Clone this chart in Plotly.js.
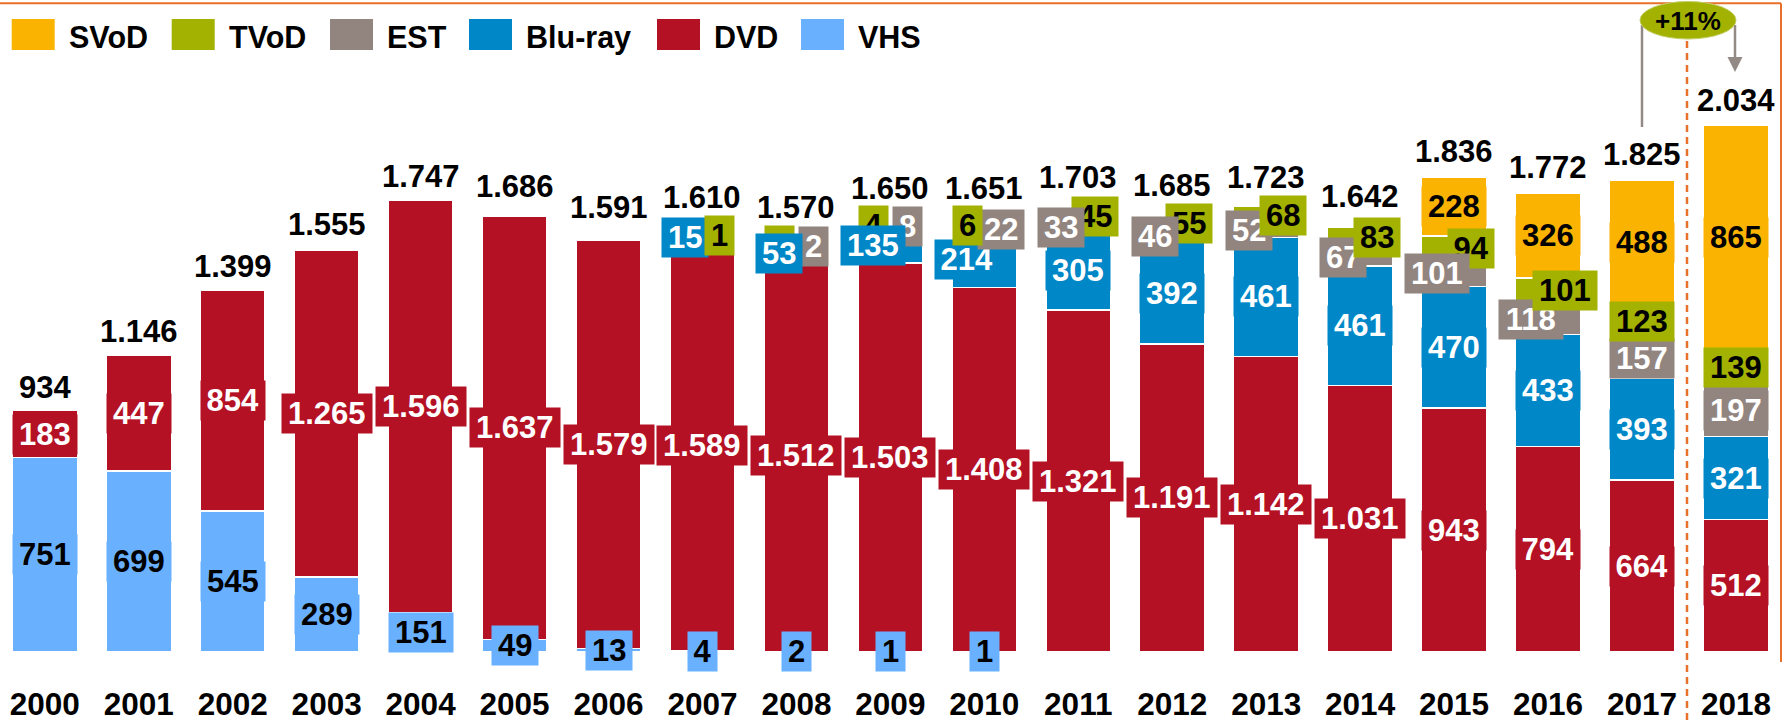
<!DOCTYPE html>
<html>
<head>
<meta charset="utf-8">
<script src="https://cdn.plot.ly/plotly-3.0.1.min.js"></script>
<style>
html,body{margin:0;padding:0;background:#fff;}
#chart{width:1789px;height:725px;}
</style>
</head>
<body>
<div id="chart"></div>
<script>
// ---------------- DATA ----------------
const years = ['2000','2001','2002','2003','2004','2005','2006','2007','2008','2009',
               '2010','2011','2012','2013','2014','2015','2016','2017','2018'];
const seriesNames = ['VHS','DVD','Blu-ray','EST','TVoD','SVoD']; // stack order, bottom to top
const vhs    = [751,699,545,289,151,49,13,4,2,1,1,0,0,0,0,0,0,0,0];
const dvd    = [183,447,854,1265,1596,1637,1579,1589,1512,1503,1408,1321,1191,1142,1031,943,794,664,512];
const bluray = [0,0,0,0,0,0,0,15,53,135,214,305,392,461,461,470,433,393,321];
const est    = [0,0,0,0,0,0,0,1,2,8,22,33,46,52,67,101,118,157,197];
const tvod   = [0,0,0,0,0,0,0,1,1,4,6,45,55,68,83,94,101,123,139];
const svod   = [0,0,0,0,0,0,0,0,0,0,0,0,0,0,0,228,326,488,865];
const totals = [934,1146,1399,1555,1747,1686,1591,1610,1570,1650,1651,1703,1685,1723,1642,1836,1772,1825,2034];
const growthLabel = '+11%';

// ---------------- STYLE ----------------
const FONT = 'Liberation Sans, Arial, sans-serif';
const FS = 31;
const W = 1789, H = 725, PLOT_B = 652;
const colors = {VHS:'#69B1FF', DVD:'#B41124', 'Blu-ray':'#0087C7', EST:'#928580', TVoD:'#A3B100', SVoD:'#F9B300'};
const textColors = {VHS:'#000', DVD:'#fff', 'Blu-ray':'#fff', EST:'#fff', TVoD:'#000', SVoD:'#000'};
const seriesValues = {VHS:vhs, DVD:dvd, 'Blu-ray':bluray, EST:est, TVoD:tvod, SVoD:svod};
// pixel lift of total labels above bar top
const totalLift = [23,24,24,25,24,29,33,38,38,37,36,34,31,29,31,25,26,25,25];
// horizontal label offsets (px) for crowded small segments
const labelShift = {
  7:{'Blu-ray':-17, EST:17, TVoD:17},
  8:{'Blu-ray':-17, TVoD:-17, EST:17},
  9:{'Blu-ray':-17, TVoD:-17, EST:17},
  10:{'Blu-ray':-17, TVoD:-17, EST:17},
  11:{EST:-17, TVoD:17}, 12:{EST:-17, TVoD:17}, 13:{EST:-17, TVoD:17},
  14:{EST:-17, TVoD:17}, 15:{EST:-17, TVoD:17}, 16:{EST:-17, TVoD:17}
};
// labels fully covered in the original (box only, or nothing)
const hiddenLabel = {7:{EST:'none'}, 8:{TVoD:'box'}};
// label drawing order overrides (later = on top)
const labelOrder = {
  8:['VHS','DVD','EST','TVoD','Blu-ray','SVoD'],
  9:['VHS','DVD','EST','TVoD','Blu-ray','SVoD'],
  11:['VHS','DVD','Blu-ray','TVoD','EST','SVoD'],
  12:['VHS','DVD','Blu-ray','TVoD','EST','SVoD'],
  15:['VHS','DVD','Blu-ray','TVoD','EST','SVoD']
};
const legendX = [11.7,171.7,330,469,657,801];

const px2x = p => p / W;
const py2y = p => (PLOT_B - p) / PLOT_B;
function fmt(v){ return String(v).replace(/\B(?=(\d{3})+(?!\d))/g,'.'); }
function textW(s){ let w=0; for (const c of s) w += (c==='.'?0.278:0.556); return w*FS; }

// ---------------- TRACES ----------------
const traces = seriesNames.map(name => ({
  type:'bar', name:name, x:years, y:seriesValues[name],
  marker:{color:colors[name], line:{color:'#ffffff', width:1.5}},
  hoverinfo:'skip', showlegend:false
}));

// ---------------- ANNOTATIONS ----------------
const annotations = [];
years.forEach((yr, i) => {
  let cum = 0; const centers = {};
  seriesNames.forEach(n => { const v = seriesValues[n][i]; centers[n] = cum + v/2; cum += v; });
  const order = labelOrder[i] || seriesNames;
  order.forEach(n => {
    const v = seriesValues[n][i];
    if (!v) return;
    const hid = hiddenLabel[i] && hiddenLabel[i][n];
    if (hid === 'none') return;
    const t = fmt(v);
    annotations.push({
      x: i, y: centers[n], xref:'x', yref:'y', text: hid === 'box' ? ' ' : t, showarrow:false,
      xanchor:'center', yanchor:'middle',
      xshift: (labelShift[i] && labelShift[i][n]) || 0,
      bgcolor: colors[n], borderpad:2, width: textW(t)+8, height:35,
      font:{family:FONT, size:FS, color:textColors[n], weight:'bold'}
    });
  });
  annotations.push({
    x: i, y: totals[i], xref:'x', yref:'y', text: fmt(totals[i]), showarrow:false,
    xanchor:'center', yanchor:'middle', yshift: totalLift[i],
    font:{family:FONT, size:FS, color:'#000', weight:'bold'}
  });
});

// legend (drawn manually to get the wide swatches)
const shapes = [];
const legendNames = seriesNames.slice().reverse();
legendNames.forEach((n, k) => {
  const x = legendX[k];
  shapes.push({type:'rect', xref:'paper', yref:'paper', x0:px2x(x), x1:px2x(x+43), y0:py2y(50), y1:py2y(19),
               fillcolor:colors[n], line:{width:0}});
  annotations.push({xref:'paper', yref:'paper', x:px2x(x+55), y:py2y(37), text:n, showarrow:false,
                    xanchor:'left', yanchor:'middle', font:{family:FONT, size:30.5, color:'#000', weight:'bold'}});
});

// frame lines
const orange = '#E8702A';
shapes.push({type:'line', xref:'paper', yref:'paper', x0:0, x1:px2x(1781), y0:py2y(3.3), y1:py2y(3.3), line:{color:orange, width:2}});
shapes.push({type:'line', xref:'paper', yref:'paper', x0:px2x(1781), x1:px2x(1781), y0:py2y(3.3), y1:py2y(662), line:{color:orange, width:2}});
// dashed separator before forecast year
shapes.push({type:'line', xref:'paper', yref:'paper', x0:px2x(1687), x1:px2x(1687), y0:py2y(41), y1:py2y(725), line:{color:orange, width:2.5, dash:'7px,5px'}});
// growth bubble and arrows
const grey = '#948A85';
shapes.push({type:'line', xref:'paper', yref:'paper', x0:px2x(1642), x1:px2x(1642), y0:py2y(25), y1:py2y(127), line:{color:grey, width:2.5}});
shapes.push({type:'line', xref:'paper', yref:'paper', x0:px2x(1735), x1:px2x(1735), y0:py2y(25), y1:py2y(58), line:{color:grey, width:2.5}});
shapes.push({type:'path', xref:'paper', yref:'paper',
  path:`M ${px2x(1727.5)} ${py2y(57)} L ${px2x(1742.5)} ${py2y(57)} L ${px2x(1735)} ${py2y(72)} Z`,
  fillcolor:grey, line:{width:0}});
shapes.push({type:'circle', xref:'paper', yref:'paper', x0:px2x(1640), x1:px2x(1736), y0:py2y(39), y1:py2y(1.5),
             fillcolor:'#A3B100', line:{color:'#C5CF6A', width:1}});
annotations.push({xref:'paper', yref:'paper', x:px2x(1688), y:py2y(21), text:growthLabel, showarrow:false,
                  xanchor:'center', yanchor:'middle', font:{family:FONT, size:26, color:'#000', weight:'bold'}});

const layout = {
  width:W, height:H, paper_bgcolor:'#fff', plot_bgcolor:'#fff',
  margin:{l:0, r:0, t:0, b:H-PLOT_B, pad:0},
  barmode:'stack', bargap:0.308, showlegend:false,
  xaxis:{type:'category', range:[-0.4768, 18.565], showgrid:false, zeroline:false, showline:false,
         ticks:'', automargin:false, ticklabelstandoff:30,
         tickfont:{family:FONT, size:31.5, color:'#000', weight:'bold'}},
  yaxis:{range:[0,2520], visible:false, showgrid:false, zeroline:false},
  annotations:annotations, shapes:shapes
};
Plotly.newPlot('chart', traces, layout, {staticPlot:true, displayModeBar:false});
</script>
</body>
</html>
